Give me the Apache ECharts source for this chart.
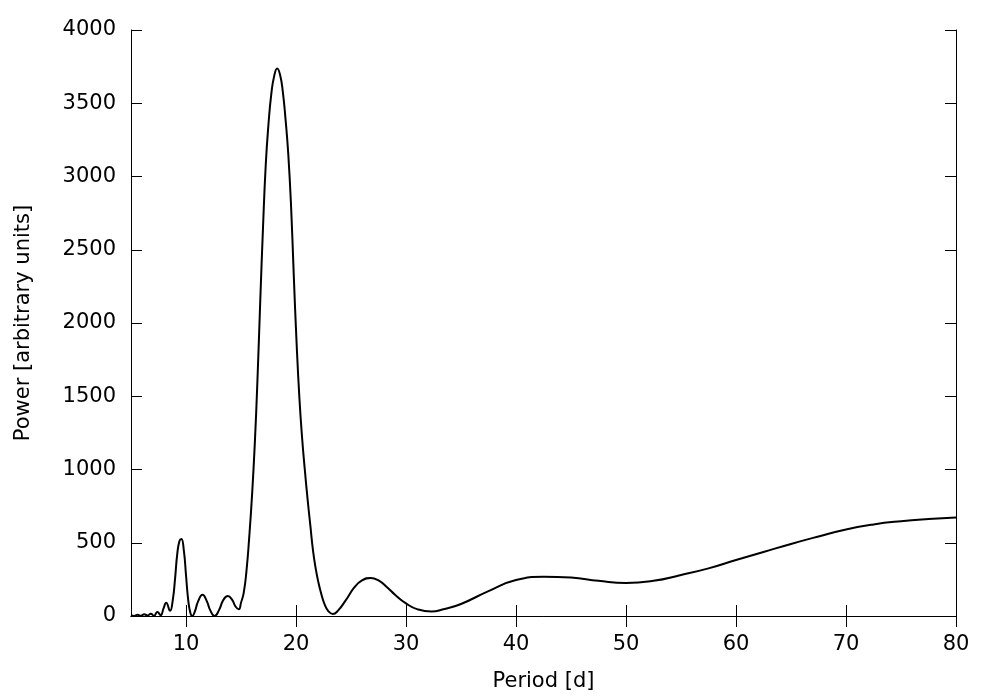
<!DOCTYPE html>
<html>
<head>
<meta charset="utf-8">
<script src="https://cdn.jsdelivr.net/npm/echarts@6/dist/echarts.min.js"></script>
<style>
  html, body { margin: 0; padding: 0; background: #fff; }
  #chart { width: 1000px; height: 700px; }
</style>
</head>
<body>
<div id="chart"></div>
<script>
// period [d]
const periods = [
  5.0, 5.3, 5.6, 5.9, 6.2, 6.5, 6.8, 7.1, 7.4, 7.7, 7.95, 8.2, 8.55, 8.8, 9.0, 9.2, 9.4, 9.58, 9.8, 10.0,
  10.2, 10.4, 10.57, 10.8, 11.1, 11.5, 11.9, 12.2, 12.6, 13.0, 13.4, 13.8, 14.2, 14.5, 14.8,
  15.0, 15.25, 15.5, 15.75, 16.0, 16.25, 16.5, 16.75, 17.0, 17.25, 17.5, 17.75, 18.0, 18.29,
  18.55, 18.8, 19.05, 19.3, 19.55, 19.8, 20.05, 20.3, 20.55, 20.8, 21.05, 21.3, 21.55, 21.8,
  22.05, 22.3, 22.6, 22.95, 23.35, 23.8, 24.5, 25.3, 26.0, 26.8, 27.5, 28.3, 29.0, 30.0, 31.0,
  32.3, 33.5, 35.0, 37.5, 40.0, 42.5, 45.0, 47.5, 50.0, 52.5, 55.0, 57.5, 60.0, 62.5, 65.0,
  67.5, 70.0, 72.5, 75.0, 77.5, 80.0
];
// power [arbitrary units]
const power = [
  5, 0, 8, 2, 12, 3, 15, 2, 28, 5, 50, 90, 35, 110, 250, 420, 510, 525, 450, 280,
  110, 20, 0, 30, 100, 145, 100, 40, 0, 40, 110, 136, 110, 65, 46,
  90, 160, 310, 540, 820, 1170, 1620, 2150, 2650, 3080, 3360, 3560, 3680, 3737,
  3695, 3580, 3390, 3150, 2800, 2320, 1870, 1500, 1220, 1000, 800, 620, 445, 320,
  225, 150, 80, 32, 14, 35, 105, 195, 243, 260, 243, 195, 145, 86, 47,
  30, 48, 82, 170, 246, 268, 262, 240, 225, 240, 280, 325, 382, 437, 492,
  543, 591, 625, 647, 662, 673
];
const xTicks = [10, 20, 30, 40, 50, 60, 70, 80];

const font = "DejaVu Sans";
const chart = echarts.init(document.getElementById("chart"));

const tickStyle = { show: true, inside: true, length: 11, lineStyle: { color: "#000", width: 1 } };
const lineStyle = { show: true, lineStyle: { color: "#000", width: 1 } };

const option = {
  animation: false,
  grid: { left: 131, right: 44, top: 30, bottom: 84 },
  xAxis: [
    {
      type: "value",
      min: 5,
      max: 80,
      name: "Period [d]",
      nameLocation: "middle",
      nameGap: 55,
      nameTextStyle: { fontFamily: font, fontSize: 21, color: "#000" },
      axisLine: lineStyle,
      axisTick: Object.assign({ customValues: xTicks }, tickStyle),
      axisLabel: { customValues: xTicks, fontFamily: font, fontSize: 21, color: "#000", margin: 18 },
      splitLine: { show: false },
    },
    {
      type: "value",
      position: "top",
      min: 5,
      max: 80,
      axisLine: lineStyle,
      axisTick: Object.assign({ customValues: xTicks }, tickStyle),
      axisLabel: { show: false },
      splitLine: { show: false },
    },
  ],
  yAxis: [
    {
      type: "value",
      min: 0,
      max: 4000,
      interval: 500,
      name: "Power [arbitrary units]",
      nameLocation: "middle",
      nameGap: 97,
      nameTextStyle: { fontFamily: font, fontSize: 21, color: "#000" },
      axisLine: lineStyle,
      axisTick: tickStyle,
      axisLabel: { fontFamily: font, fontSize: 21, color: "#000", margin: 15, formatter: (v) => String(v) },
      splitLine: { show: false },
    },
    {
      type: "value",
      position: "right",
      min: 0,
      max: 4000,
      interval: 500,
      axisLine: lineStyle,
      axisTick: tickStyle,
      axisLabel: { show: false },
      splitLine: { show: false },
    },
  ],
  series: [
    {
      type: "line",
      data: periods.map((p, i) => [p, power[i]]),
      showSymbol: false,
      smooth: 0.5,
      lineStyle: { color: "#000", width: 2 },
    },
  ],
};
chart.setOption(option);
</script>
</body>
</html>
